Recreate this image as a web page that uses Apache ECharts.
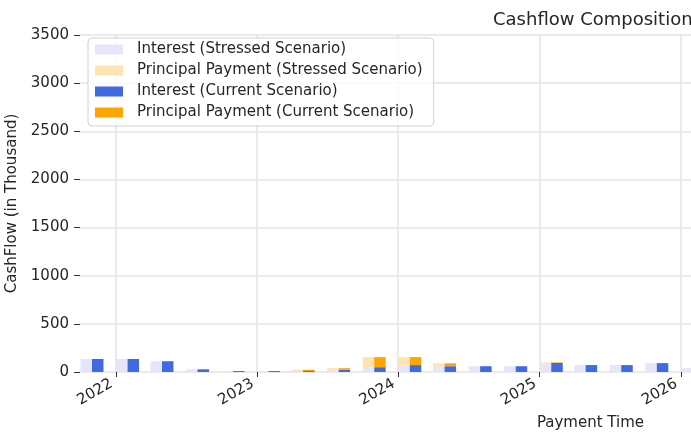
<!DOCTYPE html>
<html>
<head>
<meta charset="utf-8">
<script src="https://cdn.jsdelivr.net/npm/echarts@6/dist/echarts.min.js"></script>
<style>
  html, body { margin: 0; padding: 0; background: #fff; }
  #chart { width: 691px; height: 436px; }
</style>
</head>
<body>
<div id="chart"></div>
<script>
// quarterly payment dates
const payDates = ['2021-10-31', '2022-01-31', '2022-04-30', '2022-07-31', '2022-10-31',
  '2023-01-31', '2023-04-30', '2023-07-31', '2023-10-31', '2024-01-31', '2024-04-30',
  '2024-07-31', '2024-10-31', '2025-01-31', '2025-04-30', '2025-07-31', '2025-10-31', '2026-01-31'];

// values in thousand
const interestStressed = [135, 135, 112, 28, 10, 10, 10, 15, 50, 70, 55, 60, 60, 92, 72, 72, 92, 40];
const principalStressed = [0, 0, 0, 0, 0, 0, 14, 25, 105, 85, 35, 0, 0, 8, 0, 0, 0, 0];
const interestCurrent = [135, 135, 112, 28, 10, 10, 10, 22, 50, 72, 60, 60, 60, 94, 72, 72, 92, 40];
const principalCurrent = [0, 0, 0, 0, 0, 0, 14, 18, 105, 83, 30, 0, 0, 6, 0, 0, 0, 0];

const font = 'DejaVu Sans';
const txt = '#262626';
const DAY = 24 * 3600 * 1000;

// visible x range of the plot (it runs past the right edge of the picture)
const gridW = 1021;
const barW = 11.5;
const xStart = new Date(2021, 8, 30).getTime();
const xEnd = new Date(2028, 11, 23).getTime();
// echarts widens a time axis that carries bars by the bars' overhang; undo that
const shrink = (xEnd - xStart) * (barW / gridW);
const xMin = xStart + shrink;
const xMax = xEnd - shrink;

const pairs = vals => payDates.map((d, i) => [d, vals[i]]);

const chart = echarts.init(document.getElementById('chart'));

const mkBar = (name, stack, color, vals) => ({
  name: name,
  type: 'bar',
  stack: stack,
  barWidth: barW,
  barGap: '0%',
  itemStyle: { color: color },
  data: pairs(vals)
});

chart.setOption({
  animation: false,
  title: {
    text: 'Cashflow Composition',
    left: 488,
    top: 6,
    textStyle: { fontFamily: font, fontSize: 18, fontWeight: 'normal', color: txt }
  },
  legend: {
    orient: 'vertical',
    left: 88,
    top: 38,
    padding: [4, 11, 6, 7],
    icon: 'rect',
    itemWidth: 28,
    itemHeight: 10,
    itemGap: 6,
    backgroundColor: 'rgba(255,255,255,0.85)',
    borderColor: '#d0d0d0',
    borderWidth: 1,
    borderRadius: 4,
    textStyle: { fontFamily: font, fontSize: 15, color: txt, lineHeight: 15, padding: [0, 0, 0, 9] },
    data: ['Interest (Stressed Scenario)', 'Principal Payment (Stressed Scenario)',
      'Interest (Current Scenario)', 'Principal Payment (Current Scenario)']
  },
  grid: { left: 80, top: 35, width: gridW, height: 337, outerBoundsMode: 'none', containLabel: false },
  xAxis: {
    type: 'time',
    min: xMin,
    max: xMax,
    minInterval: 365 * DAY,
    maxInterval: 366 * DAY,
    splitNumber: 7,
    name: 'Payment Time',
    nameLocation: 'middle',
    nameGap: 44,
    nameTextStyle: { fontFamily: font, fontSize: 15, color: txt },
    axisLine: { show: false },
    axisTick: { show: true, length: 5, lineStyle: { color: '#333' } },
    axisLabel: {
      rotate: 30,
      margin: 8,
      padding: [0, 5, 0, 0],
      showMinLabel: false,
      showMaxLabel: false,
      fontFamily: font,
      fontSize: 15,
      color: txt,
      formatter: '{yyyy}'
    },
    splitLine: { show: true, showMinLine: false, showMaxLine: false, lineStyle: { color: '#e3e3e3', width: 1.5 } }
  },
  yAxis: {
    type: 'value',
    min: 0,
    max: 3500,
    interval: 500,
    name: 'CashFlow (in Thousand)',
    nameLocation: 'middle',
    nameGap: 52,
    nameTextStyle: { fontFamily: font, fontSize: 15, color: txt },
    axisLine: { show: false },
    axisTick: { show: true, length: 6, lineStyle: { color: '#333' } },
    axisLabel: { fontFamily: font, fontSize: 15, color: txt, margin: 11, formatter: v => String(v) },
    splitLine: { show: true, lineStyle: { color: '#e3e3e3', width: 1.5 } }
  },
  series: [
    mkBar('Interest (Stressed Scenario)', 'stressed', '#e6e6fa', interestStressed),
    mkBar('Principal Payment (Stressed Scenario)', 'stressed', '#ffe4b3', principalStressed),
    mkBar('Interest (Current Scenario)', 'current', '#4169e1', interestCurrent),
    mkBar('Principal Payment (Current Scenario)', 'current', '#ffa500', principalCurrent)
  ]
});
</script>
</body>
</html>
